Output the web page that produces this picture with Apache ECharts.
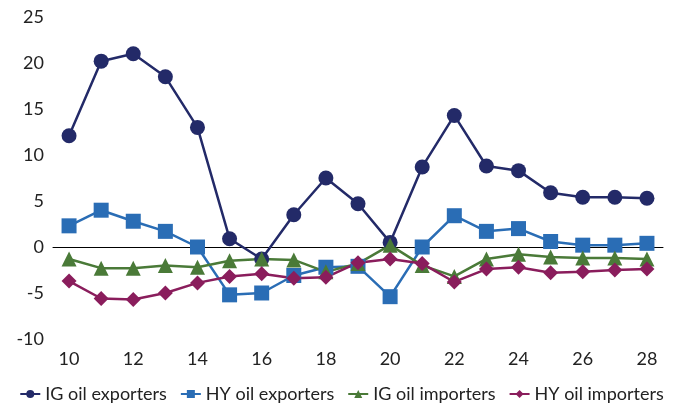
<!DOCTYPE html>
<html>
<head>
<meta charset="utf-8">
<script src="https://cdn.jsdelivr.net/npm/echarts@6/dist/echarts.min.js"></script>
<style>
  html, body { margin: 0; padding: 0; background: #fff; }
  #chart { width: 683px; height: 408px; }
</style>
</head>
<body>
<div id="chart"></div>
<script>
// years (2010..2028, shown as two digits)
const years = ['10', '11', '12', '13', '14', '15', '16', '17', '18', '19',
  '20', '21', '22', '23', '24', '25', '26', '27', '28'];

const igExporters = [12.1, 20.2, 21.0, 18.5, 13.0, 0.9, -1.3, 3.5, 7.5, 4.7,
  0.5, 8.7, 14.3, 8.8, 8.3, 5.9, 5.4, 5.4, 5.3];
const hyExporters = [2.3, 4.0, 2.8, 1.7, 0.0, -5.2, -5.0, -3.1, -2.2, -2.1,
  -5.4, 0.0, 3.4, 1.7, 2.0, 0.6, 0.2, 0.2, 0.4];
const igImporters = [-1.3, -2.3, -2.3, -2.0, -2.2, -1.5, -1.3, -1.4, -2.7, -1.8,
  0.2, -2.0, -3.2, -1.3, -0.8, -1.1, -1.2, -1.2, -1.3];
const hyImporters = [-3.7, -5.6, -5.7, -5.0, -3.9, -3.2, -2.9, -3.4, -3.3, -1.7,
  -1.3, -1.8, -3.8, -2.4, -2.2, -2.8, -2.7, -2.5, -2.4];

const fontFamily = 'Lato, "Noto Sans", sans-serif';

function lineSeries(name, data, color, symbol, size) {
  return {
    name: name,
    type: 'line',
    data: data,
    symbol: symbol,
    symbolSize: size,
    lineStyle: { color: color, width: 2.5 },
    itemStyle: { color: color },
    emphasis: { disabled: true }
  };
}

const chart = echarts.init(document.getElementById('chart'));

chart.setOption({
  backgroundColor: '#ffffff',
  animation: false,
  grid: { left: 53, right: 20, top: 17, bottom: 69 },
  legend: {
    bottom: 0,
    left: 'center',
    itemGap: 13,
    itemWidth: 20,
    itemHeight: 10,
    textStyle: { fontFamily: fontFamily, fontSize: 18, color: '#222' }
  },
  xAxis: {
    type: 'category',
    data: years,
    boundaryGap: true,
    axisLine: { onZero: true, lineStyle: { color: '#000', width: 1 } },
    axisTick: { show: false },
    axisLabel: {
      interval: 1,
      fontFamily: fontFamily,
      fontSize: 18,
      color: '#222',
      margin: 11
    },
    position: 'bottom'
  },
  yAxis: {
    type: 'value',
    min: -10,
    max: 25,
    interval: 5,
    axisLine: { show: false },
    axisTick: { show: false },
    splitLine: { show: false },
    axisLabel: {
      fontFamily: fontFamily,
      fontSize: 18,
      color: '#222',
      margin: 9
    }
  },
  series: [
    lineSeries('IG oil exporters', igExporters, '#232a68', 'circle', 15),
    lineSeries('HY oil exporters', hyExporters, '#2a6db5', 'rect', 15),
    lineSeries('IG oil importers', igImporters, '#4a7a38', 'triangle', 15),
    lineSeries('HY oil importers', hyImporters, '#8a1d5c', 'diamond', 15)
  ]
});
</script>
</body>
</html>
